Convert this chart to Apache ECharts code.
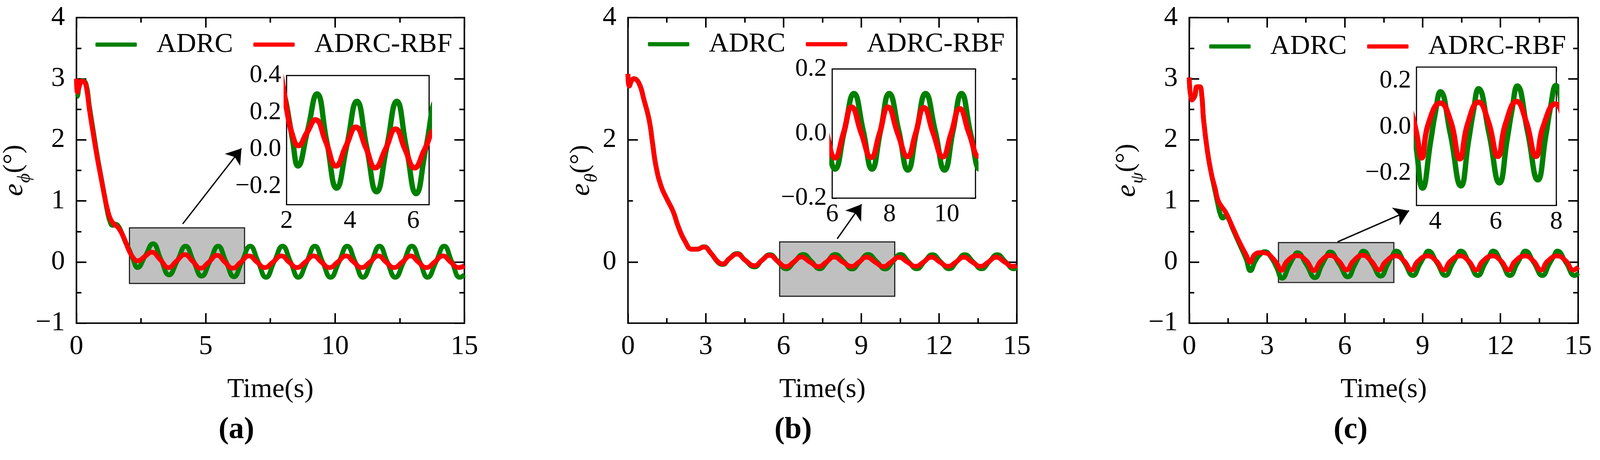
<!DOCTYPE html>
<html>
<head>
<meta charset="utf-8">
<script src="https://cdn.jsdelivr.net/npm/echarts@6/dist/echarts.min.js"></script>
<style>
html, body { margin: 0; padding: 0; background: #fff; overflow: hidden; }
#chart { width: 100vw; height: 100vh; }
</style>
</head>
<body>
<div id="chart"></div>
<script>
var FONT = 'Liberation Serif';
var GREEN = '#008000';
var RED = '#ff0000';

// ---- series values, [time, error] ----
var phiAdrc = [[0,2.70],[0.05,2.73],[0.12,2.90],[0.25,2.97],[0.38,2.90],[0.5,2.55],[0.65,2.15],[0.8,1.75],[0.95,1.40],[1.1,1.05],[1.2,0.82],[1.3,0.66],[1.4,0.60],[1.5,0.62],[1.6,0.60],[1.75,0.48],[1.9,0.32],[2.0,0.24],[2.18,0.06],[2.36,-0.09],[2.66,0.10],[2.96,0.30],[3.27,0.04],[3.58,-0.21],[3.9,0.02],[4.22,0.26],[4.53,0.01],[4.84,-0.23],[5.16,0.01],[5.48,0.26],[5.78,0.01],[6.09,-0.24],[6.4,0.01],[6.72,0.26],[7.02,0.01],[7.33,-0.25],[7.65,0.01],[7.97,0.26],[8.28,0.0],[8.58,-0.25],[8.9,0.0],[9.22,0.26],[9.52,0.0],[9.83,-0.25],[10.15,0.0],[10.47,0.26],[10.78,0.0],[11.08,-0.25],[11.4,0.0],[11.72,0.26],[12.02,0.0],[12.33,-0.25],[12.65,0.0],[12.97,0.26],[13.28,0.0],[13.58,-0.25],[13.9,0.0],[14.22,0.26],[14.52,0.0],[14.83,-0.25],[15,-0.21]];
var phiRbf = [[0,3.00],[0.04,2.78],[0.1,2.86],[0.2,2.96],[0.3,2.95],[0.4,2.82],[0.5,2.50],[0.65,2.10],[0.8,1.72],[0.95,1.38],[1.1,1.05],[1.2,0.86],[1.3,0.72],[1.45,0.62],[1.6,0.57],[1.75,0.47],[1.9,0.33],[2.0,0.22],[2.18,0.08],[2.37,0.02],[2.64,0.09],[2.91,0.16],[3.24,0.04],[3.56,-0.09],[3.88,0.02],[4.19,0.12],[4.5,0.01],[4.8,-0.10],[5.12,0.0],[5.44,0.11],[5.74,0.0],[6.04,-0.10],[6.36,0.0],[6.67,0.10],[6.98,0.0],[7.28,-0.09],[7.6,0.0],[7.92,0.10],[8.22,0.0],[8.53,-0.09],[8.85,0.0],[9.17,0.10],[9.47,0.0],[9.78,-0.09],[10.1,0.0],[10.42,0.10],[10.72,0.0],[11.03,-0.09],[11.35,0.0],[11.67,0.10],[11.97,0.0],[12.28,-0.09],[12.6,0.0],[12.92,0.10],[13.22,0.0],[13.53,-0.09],[13.85,0.0],[14.17,0.10],[14.47,0.0],[14.78,-0.09],[15,-0.06]];

var thetaAdrc = [[0,3.08],[0.05,2.90],[0.22,3.0],[0.42,2.93],[0.62,2.65],[0.82,2.32],[0.95,1.94],[1.08,1.57],[1.28,1.24],[1.48,1.05],[1.74,0.83],[1.94,0.58],[2.2,0.34],[2.47,0.21],[2.66,0.21],[2.93,0.25],[3.19,0.15],[3.46,0.0],[3.65,-0.04],[3.92,0.06],[4.21,0.14],[4.52,0.03],[4.88,-0.08],[5.17,0.03],[5.47,0.12],[5.8,0.0],[6.1,-0.11],[6.43,0.01],[6.76,0.124],[7.08,0.01],[7.39,-0.11],[7.69,0.01],[7.99,0.124],[8.32,0.01],[8.64,-0.113],[8.95,0.01],[9.26,0.124],[9.59,0.01],[9.92,-0.113],[10.22,0.01],[10.51,0.124],[10.83,0.0],[11.14,-0.11],[11.44,0.01],[11.74,0.12],[12.07,0.0],[12.39,-0.11],[12.69,0.01],[12.99,0.12],[13.32,0.0],[13.64,-0.11],[13.94,0.01],[14.24,0.12],[14.57,0.0],[14.89,-0.11],[15,-0.09]];
var thetaRbf = [[0,3.08],[0.05,2.88],[0.22,3.0],[0.42,2.93],[0.62,2.65],[0.82,2.32],[0.95,1.94],[1.08,1.57],[1.28,1.24],[1.48,1.05],[1.74,0.83],[1.94,0.58],[2.2,0.34],[2.47,0.21],[2.66,0.21],[2.93,0.245],[3.19,0.15],[3.46,0.01],[3.65,-0.03],[3.92,0.06],[4.21,0.13],[4.52,0.03],[4.88,-0.06],[5.17,0.03],[5.46,0.11],[5.78,0.01],[6.1,-0.075],[6.39,0.0],[6.68,0.082],[7.02,0.0],[7.36,-0.074],[7.65,0.0],[7.95,0.082],[8.29,0.0],[8.63,-0.071],[8.91,0.0],[9.2,0.08],[9.53,0.0],[9.86,-0.072],[10.15,0.0],[10.45,0.077],[10.78,0.0],[11.1,-0.07],[11.4,0.0],[11.7,0.08],[12.03,0.0],[12.35,-0.07],[12.65,0.0],[12.95,0.08],[13.28,0.0],[13.6,-0.07],[13.9,0.0],[14.2,0.08],[14.53,0.0],[14.85,-0.07],[15,-0.06]];

var psiAdrc = [[0,3.02],[0.1,2.66],[0.2,2.70],[0.3,2.86],[0.4,2.87],[0.48,2.74],[0.55,2.35],[0.7,1.82],[0.85,1.45],[1.0,1.15],[1.1,0.95],[1.2,0.78],[1.3,0.72],[1.4,0.76],[1.5,0.72],[1.67,0.55],[1.93,0.30],[2.19,0.05],[2.36,-0.14],[2.55,0.02],[2.72,0.12],[2.92,0.17],[3.15,0.08],[3.36,-0.08],[3.58,-0.265],[3.85,-0.06],[4.0,0.06],[4.17,0.153],[4.5,-0.03],[4.85,-0.255],[5.1,-0.06],[5.25,0.06],[5.43,0.166],[5.78,-0.03],[6.12,-0.242],[6.38,-0.05],[6.53,0.07],[6.71,0.178],[7.05,-0.02],[7.39,-0.229],[7.65,-0.04],[7.8,0.08],[7.98,0.18],[8.3,-0.01],[8.63,-0.22],[8.9,-0.03],[9.05,0.08],[9.22,0.18],[9.55,-0.01],[9.88,-0.22],[10.15,-0.03],[10.3,0.08],[10.47,0.18],[10.8,-0.01],[11.13,-0.22],[11.4,-0.03],[11.55,0.08],[11.72,0.18],[12.05,-0.01],[12.37,-0.22],[12.64,-0.03],[12.79,0.08],[12.96,0.18],[13.29,-0.01],[13.62,-0.22],[13.89,-0.03],[14.04,0.08],[14.2,0.18],[14.53,-0.01],[14.87,-0.22],[15,-0.18]];
var psiRbf = [[0,3.02],[0.1,2.65],[0.2,2.72],[0.3,2.87],[0.4,2.87],[0.48,2.74],[0.55,2.33],[0.7,1.81],[0.85,1.45],[1.0,1.20],[1.1,1.02],[1.21,0.93],[1.41,0.81],[1.67,0.57],[1.93,0.33],[2.19,0.12],[2.35,0.0],[2.52,0.12],[2.78,0.155],[2.98,0.145],[3.2,0.07],[3.38,-0.025],[3.55,-0.134],[3.77,0.013],[4.17,0.104],[4.51,0.025],[4.81,-0.138],[5.07,0.013],[5.43,0.108],[5.75,0.025],[6.07,-0.127],[6.32,0.013],[6.69,0.111],[7.0,0.025],[7.33,-0.127],[7.56,0.0],[7.97,0.10],[8.28,0.02],[8.57,-0.13],[8.81,0.01],[9.2,0.10],[9.52,0.02],[9.82,-0.13],[10.06,0.01],[10.45,0.10],[10.77,0.02],[11.07,-0.13],[11.31,0.01],[11.7,0.10],[12.02,0.02],[12.32,-0.13],[12.56,0.01],[12.95,0.10],[13.27,0.02],[13.57,-0.13],[13.81,0.01],[14.2,0.10],[14.52,0.02],[14.82,-0.13],[15,-0.08]];

// zoom boxes and arrows, in data coordinates of the main plots
var phiBox = [[2.05, -0.35], [6.5, 0.56]];
var thetaBox = [[5.85, -0.56], [10.29, 0.33]];
var psiBox = [[3.44, -0.335], [7.89, 0.318]];
var phiArrow = [[4.11, 0.625], [6.38, 1.86]];
var thetaArrow = [[8.07, 0.38], [9.01, 0.945]];
var psiArrow = [[5.72, 0.33], [8.48, 0.84]];

// tick values
var xMajorA = [0, 5, 10, 15], xMinorA = [2.5, 7.5, 12.5];
var xMajorBC = [0, 3, 6, 9, 12, 15], xMinorBC = [1.5, 4.5, 7.5, 10.5, 13.5];
var yMajorAC = [-1, 0, 1, 2, 3, 4], yMinorAC = [-0.5, 0.5, 1.5, 2.5, 3.5];
var yMajorB = [0, 2, 4], yMinorB = [1, 3];
var phiInsetX = [2, 4, 6], phiInsetXMinor = [3, 5];
var phiInsetY = [-0.2, 0, 0.2, 0.4], phiInsetYMinor = [-0.1, 0.1, 0.3];
var thetaInsetX = [6, 8, 10], thetaInsetXMinor = [7, 9, 11];
var thetaInsetY = [-0.2, 0, 0.2], thetaInsetYMinor = [-0.1, 0.1];
var psiInsetX = [4, 6, 8], psiInsetXMinor = [5, 7];
var psiInsetY = [-0.2, 0, 0.2], psiInsetYMinor = [-0.3, -0.1, 0.1];

var legendNames = ['ADRC', 'ADRC-RBF'];
var panelLabels = ['(a)', '(b)', '(c)'];
var yNames = ['\u03d5', '\u03b8', '\u03c8'];

// layout is measured on a 4176 x 1177 page, scaled to whatever the window gives
var dom = document.getElementById('chart');
var S = Math.min(dom.clientWidth / 4176, dom.clientHeight / 1177);
function px(v) { return v * S; }

var grids = [], xAxes = [], yAxes = [], series = [];

function minus(s) { return s.replace('-', '\u2212'); }
function fmtInt(v) { return minus(String(v)); }
function fmtOne(v) { return minus(v.toFixed(1)); }

// four axes per direction: labelled major side, its minors, mirrored major, mirrored minors
function addAxes(list, dim, gi, min, max, major, minor, tick, lw, label, extra) {
  var sides = dim === 'x' ? ['bottom', 'top'] : ['left', 'right'];
  var first = list.length;
  sides.forEach(function(side, s) {
    [major, minor].forEach(function(vals, m) {
      var ax = {
        type: 'value', gridIndex: gi, position: side, min: min, max: max,
        axisLine: {show: false, onZero: false},
        splitLine: {show: false},
        axisTick: {show: true, inside: true, customValues: vals, length: px(m ? tick / 2 : tick),
          lineStyle: {color: '#000', width: px(lw)}},
        axisLabel: {show: false}
      };
      if (s == 0 && m == 0) {
        ax.axisLabel = label;
        ax.axisLabel.customValues = vals;
        for (var k in extra) ax[k] = extra[k];
      }
      list.push(ax);
    });
  });
  return first;
}

function lineSeries(name, data, color, xi, yi, width) {
  return {
    type: 'line', name: name, data: data, xAxisIndex: xi, yAxisIndex: yi,
    symbol: 'none', smooth: 0.5, clip: true, silent: true, z: 3,
    color: color, lineStyle: {color: color, width: px(width)}, itemStyle: {color: color}
  };
}

var panels = [
  {main: [197, 46, 1015, 797], inset: [748, 197, 372, 337],
   xMajor: xMajorA, xMinor: xMinorA, yMajor: yMajorAC, yMinor: yMinorAC,
   ix: [2, 6.5], iy: [-0.3, 0.4], ixMajor: phiInsetX, ixMinor: phiInsetXMinor, iyMajor: phiInsetY, iyMinor: phiInsetYMinor,
   adrc: phiAdrc, rbf: phiRbf, box: phiBox, arrow: phiArrow, nameGap: 99, legendTop: 111, labelX: 617},
  {main: [1639, 46, 1015, 797], inset: [2172, 180, 374, 337],
   xMajor: xMajorBC, xMinor: xMinorBC, yMajor: yMajorB, yMinor: yMinorB,
   ix: [6, 11], iy: [-0.2, 0.2], ixMajor: thetaInsetX, ixMinor: thetaInsetXMinor, iyMajor: thetaInsetY, iyMinor: thetaInsetYMinor,
   adrc: thetaAdrc, rbf: thetaRbf, box: thetaBox, arrow: thetaArrow, nameGap: 77, legendTop: 110, labelX: 2070},
  {main: [3104, 46, 1015, 797], inset: [3697, 175, 365, 361],
   xMajor: xMajorBC, xMinor: xMinorBC, yMajor: yMajorAC, yMinor: yMinorAC,
   ix: [3.38, 8], iy: [-0.34, 0.26], ixMajor: psiInsetX, ixMinor: psiInsetXMinor, iyMajor: psiInsetY, iyMinor: psiInsetYMinor,
   adrc: psiAdrc, rbf: psiRbf, box: psiBox, arrow: psiArrow, nameGap: 94, legendTop: 116, labelX: 3525}
];

var legends = [], graphics = [];

panels.forEach(function(p, i) {
  var gMain = grids.length;
  grids.push({left: px(p.main[0]), top: px(p.main[1]), width: px(p.main[2]), height: px(p.main[3]),
    show: true, borderColor: '#000', borderWidth: px(4), backgroundColor: 'transparent'});
  var gIn = grids.length;
  grids.push({left: px(p.inset[0]), top: px(p.inset[1]), width: px(p.inset[2]), height: px(p.inset[3]),
    show: true, borderColor: '#000', borderWidth: px(3), backgroundColor: '#fff', z: 4});

  var xi = addAxes(xAxes, 'x', gMain, 0, 15, p.xMajor, p.xMinor, 26, 4,
    {fontFamily: FONT, fontSize: px(72), color: '#000', margin: px(26), formatter: fmtInt},
    {name: 'Time(s)', nameLocation: 'middle', nameGap: px(138),
     nameTextStyle: {fontFamily: FONT, fontSize: px(72), color: '#000'}});
  var yi = addAxes(yAxes, 'y', gMain, -1, 4, p.yMajor, p.yMinor, 26, 4,
    {fontFamily: FONT, fontSize: px(72), color: '#000', margin: px(30), formatter: fmtInt},
    {name: '{e|e}{s|' + yNames[i] + '}{n|(\u00b0)}', nameLocation: 'middle', nameRotate: 90, nameGap: px(p.nameGap),
     nameTextStyle: {color: '#000', rich: {
       e: {fontFamily: FONT, fontStyle: 'italic', fontSize: px(74), lineHeight: px(74), verticalAlign: 'top', color: '#000'},
       s: {fontFamily: FONT, fontStyle: 'italic', fontSize: px(48), lineHeight: px(48), verticalAlign: 'top', padding: [px(40), 0, 0, px(2)], color: '#000'},
       n: {fontFamily: FONT, fontSize: px(70), lineHeight: px(74), verticalAlign: 'top', color: '#000'}
     }}});

  var ixi = addAxes(xAxes, 'x', gIn, p.ix[0], p.ix[1], p.ixMajor, p.ixMinor, 12, 3,
    {fontFamily: FONT, fontSize: px(66), color: '#000', margin: px(10), formatter: fmtInt}, {});
  var iyi = addAxes(yAxes, 'y', gIn, p.iy[0], p.iy[1], p.iyMajor, p.iyMinor, 12, 3,
    {fontFamily: FONT, fontSize: px(66), color: '#000', margin: px(14), formatter: fmtOne}, {});

  // grey zoom box and arrow, under the curves
  series.push({
    type: 'line', name: 'box' + i, data: [], xAxisIndex: xi, yAxisIndex: yi, z: 1, silent: true,
    markArea: {silent: true, itemStyle: {color: '#c0c0c0', borderColor: '#222', borderWidth: px(3)},
      label: {show: false},
      data: [[{coord: p.box[0]}, {coord: p.box[1]}]]},
    markLine: {silent: true, symbol: ['none', 'arrow'], symbolSize: px(38), label: {show: false},
      lineStyle: {color: '#000', width: px(3.5), type: 'solid'},
      data: [[{coord: p.arrow[0]}, {coord: p.arrow[1]}]]}
  });
  series.push(lineSeries('ADRC', p.adrc, GREEN, xi, yi, 12.5));
  series.push(lineSeries('ADRC-RBF', p.rbf, RED, xi, yi, 12.5));
  series.push(Object.assign(lineSeries('ADRC', p.adrc, GREEN, ixi, iyi, 14), {z: 6}));
  series.push(Object.assign(lineSeries('ADRC-RBF', p.rbf, RED, ixi, iyi, 14), {z: 6}));

  legends.push({
    data: legendNames, left: px(p.main[0] + 47), top: px(p.legendTop - 36), orient: 'horizontal',
    icon: 'roundRect', itemWidth: px(108), itemHeight: px(11), itemGap: px(53), selectedMode: false,
    textStyle: {fontFamily: FONT, fontSize: px(72), lineHeight: px(72), color: '#000', padding: [0, 0, 0, px(46)]}
  });

  graphics.push({
    type: 'text', x: px(p.labelX), y: px(1122),
    style: {text: panelLabels[i], align: 'center', verticalAlign: 'middle',
      fontFamily: FONT, fontSize: px(80), fontWeight: 'bold', fill: '#000'}
  });
});

var chart = echarts.init(dom);
chart.setOption({
  backgroundColor: '#fff',
  animation: false,
  grid: grids,
  xAxis: xAxes,
  yAxis: yAxes,
  legend: legends,
  graphic: graphics,
  series: series
});
</script>
</body>
</html>
